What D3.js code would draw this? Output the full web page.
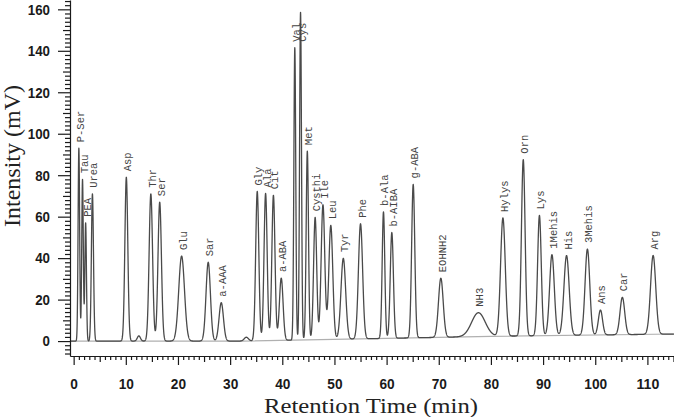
<!DOCTYPE html>
<html>
<head>
<meta charset="utf-8">
<script src="https://cdn.jsdelivr.net/npm/d3@7/dist/d3.min.js"></script>
<style>
  html, body { margin: 0; padding: 0; background: #fff; }
  svg { display: block; }
</style>
</head>
<body>
<svg id="chart" width="674" height="417"></svg>
<script>
// ---- Data ----
const peakNames   = ["P-Ser","Tau","PEA","Urea","Asp","Thr","Ser","Glu","Sar","a-AAA",
                     "Gly","Ala","Cit","a-ABA","Val","Cys","Met","Cysthi","Ile","Leu",
                     "Tyr","Phe","b-Ala","b-AIBA","g-ABA","EOHNH2","NH3","Hylys","Orn","Lys",
                     "1Mehis","His","3Mehis","Ans","Car","Arg"];
const peakTimes   = [1.0, 1.7, 2.3, 3.6, 10.1, 14.8, 16.5, 20.7, 25.8, 28.3,
                     35.2, 36.8, 38.3, 39.8, 42.4, 43.5, 44.8, 46.3, 47.8, 49.3,
                     51.7, 55.0, 59.4, 61.0, 65.1, 70.4, 77.6, 82.3, 86.2, 89.3,
                     91.7, 94.5, 98.5, 101.0, 105.2, 111.1];
const peakHeights = [93, 78, 57, 71, 79, 71, 67, 41, 38, 18.5,
                     72, 71, 70, 30, 141, 158, 91, 59, 65, 55,
                     39, 55.5, 61, 51, 74, 28.5, 11.5, 57, 85, 58,
                     39, 38.5, 41.5, 12, 18, 38];
const peakWidths  = [0.15, 0.15, 0.15, 0.2, 0.28, 0.33, 0.33, 0.55, 0.42, 0.42,
                     0.3, 0.3, 0.3, 0.35, 0.18, 0.18, 0.22, 0.3, 0.35, 0.38,
                     0.45, 0.4, 0.25, 0.3, 0.3, 0.45, 1.3, 0.45, 0.35, 0.35,
                     0.45, 0.5, 0.45, 0.4, 0.45, 0.5];
const smallPeakTimes   = [12.5, 33.1];
const smallPeakHeights = [2.5, 1.8];
const smallPeakWidths  = [0.3, 0.4];
const baselineTimes  = [-0.7, 32, 60, 80, 115.1];
const baselineValues = [0, 0, 1.3, 2.3, 3.4];
const yTickValues = [0, 20, 40, 60, 80, 100, 120, 140, 160];
const xTickValues = [0, 10, 20, 30, 40, 50, 60, 70, 80, 90, 100, 110];

// ---- Layout ----
const svg = d3.select("#chart");
const x = d3.scaleLinear().domain([-0.7, 115.1]).range([70, 674]);
const y = d3.scaleLinear().domain([-7.2, 164.5]).range([356, 0]);
const baseline = d3.scaleLinear().domain(baselineTimes).range(baselineValues);

const allT = peakTimes.concat(smallPeakTimes);
const allH = peakHeights.concat(smallPeakHeights);
const allW = peakWidths.concat(smallPeakWidths);
function signal(t) {
  let v = baseline(t);
  for (let i = 0; i < allT.length; i++) {
    const d = (t - allT[i]) / allW[i];
    v += allH[i] * Math.exp(-0.5 * d * d);
  }
  return v;
}
const samples = d3.range(-0.7, 115.1, 0.02).map(t => [t, signal(t)]);

// baseline (grey)
svg.append("path")
  .datum(baselineTimes.map((t, i) => [t, baselineValues[i]]))
  .attr("fill", "none").attr("stroke", "#b0b0b0").attr("stroke-width", 1.2)
  .attr("d", d3.line().x(d => x(d[0])).y(d => y(d[1])));

// chromatogram
svg.append("path")
  .datum(samples)
  .attr("fill", "none").attr("stroke", "#4a4a4a").attr("stroke-width", 1.3)
  .attr("stroke-linejoin", "round")
  .attr("d", d3.line().x(d => x(d[0])).y(d => y(d[1])));

// ---- Axes ----
const axisColor = "#1a1a1a";
function styleAxis(g) {
  g.selectAll("path,line").attr("stroke", axisColor).attr("stroke-width", 1.2);
}
const yMinor = d3.range(-6, 165, 2).filter(v => v % 10 !== 0);
const yMid = d3.range(10, 165, 20);
svg.append("g").attr("transform", "translate(70,0)")
  .call(d3.axisLeft(y).tickValues(yMinor).tickSize(5).tickFormat("").tickSizeOuter(0))
  .call(styleAxis);
svg.append("g").attr("transform", "translate(70,0)")
  .call(d3.axisLeft(y).tickValues(yMid).tickSize(7).tickFormat("").tickSizeOuter(0))
  .call(g => g.select(".domain").remove())
  .call(styleAxis);
const yAx = svg.append("g").attr("transform", "translate(70,0)")
  .call(d3.axisLeft(y).tickValues(yTickValues).tickSize(12).tickPadding(8).tickSizeOuter(0))
  .call(g => g.select(".domain").remove())
  .call(styleAxis);
yAx.selectAll("text")
  .attr("font-family", "Liberation Sans, Arial, sans-serif")
  .attr("font-weight", "bold").attr("font-size", 15).attr("fill", axisColor)
  .attr("textLength", d => String(d).length * 7.4)
  .attr("lengthAdjust", "spacingAndGlyphs");

const xMinor = d3.range(0, 116, 1).filter(v => v % 5 !== 0);
const xMid = d3.range(5, 116, 10);
svg.append("g").attr("transform", "translate(0,356)")
  .call(d3.axisBottom(x).tickValues(xMinor).tickSize(4).tickFormat("").tickSizeOuter(0))
  .call(styleAxis);
svg.append("g").attr("transform", "translate(0,356)")
  .call(d3.axisBottom(x).tickValues(xMid).tickSize(6).tickFormat("").tickSizeOuter(0))
  .call(g => g.select(".domain").remove())
  .call(styleAxis);
const xAx = svg.append("g").attr("transform", "translate(0,356)")
  .call(d3.axisBottom(x).tickValues(xTickValues).tickSize(9).tickPadding(13).tickSizeOuter(0))
  .call(g => g.select(".domain").remove())
  .call(styleAxis);
xAx.selectAll("text")
  .attr("font-family", "Liberation Sans, Arial, sans-serif")
  .attr("font-weight", "bold").attr("font-size", 15).attr("fill", axisColor)
  .attr("textLength", d => String(d).length * 7.6)
  .attr("lengthAdjust", "spacingAndGlyphs");

// ---- Axis titles ----
svg.append("text")
  .attr("transform", "translate(20,156) rotate(-90)")
  .attr("text-anchor", "middle")
  .attr("font-family", "Liberation Serif, Times New Roman, serif")
  .attr("font-size", 24).attr("fill", "#222")
  .text("Intensity (mV)");
svg.append("text")
  .attr("x", 371).attr("y", 412.5)
  .attr("text-anchor", "middle")
  .attr("font-family", "Liberation Serif, Times New Roman, serif")
  .attr("font-size", 21.5).attr("fill", "#222")
  .attr("textLength", 214).attr("lengthAdjust", "spacingAndGlyphs")
  .text("Retention Time (min)");

// ---- Peak labels ----
const labelGap = 6;
const valIndex = peakNames.indexOf("Val");
peakNames.forEach((name, i) => {
  const t = peakTimes[i];
  // Cys label shares the Val label's height (overlaps the tall peak)
  const topVal = name === "Cys" ? signal(peakTimes[valIndex]) : signal(t);
  const px = x(t) + 5;
  const py = y(topVal) - labelGap;
  svg.append("text")
    .attr("transform", `translate(${px},${py}) rotate(-90)`)
    .attr("text-anchor", "start")
    .attr("font-family", "Liberation Mono, DejaVu Sans Mono, monospace")
    .attr("font-size", 10.5).attr("fill", "#444")
    .text(name);
});
</script>
</body>
</html>
